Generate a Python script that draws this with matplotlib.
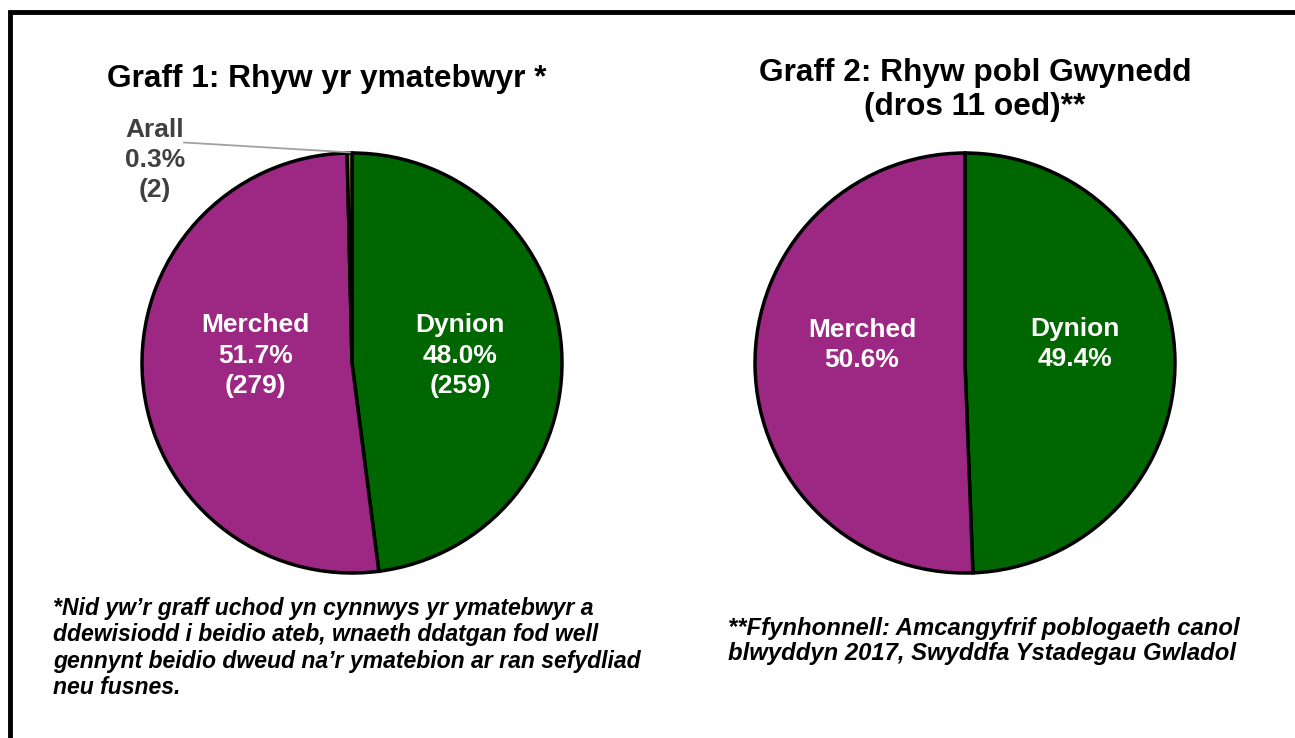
import matplotlib.pyplot as plt
from matplotlib.patches import Rectangle

plt.rcParams['font.family'] = ['Liberation Sans', 'DejaVu Sans']

# Graff 1: ymatebwyr (nifer)
labels1 = ['Dynion', 'Merched', 'Arall']
counts1 = [259, 279, 2]
pct1 = ['48.0%', '51.7%', '0.3%']

# Graff 2: poblogaeth Gwynedd (%)
labels2 = ['Dynion', 'Merched']
pct2 = [49.4, 50.6]

green = '#006600'
purple = '#9C2883'
arall_col = '#B8860B'

fig = plt.figure(figsize=(12.95, 7.38), dpi=100)
W, H = 1295, 738

# ffrâm ddu
fig.patches.append(Rectangle((10 / W, -0.1), 1.2, 1 - 12 / H + 0.1, transform=fig.transFigure,
                             fill=False, edgecolor='black', linewidth=3.5))


def pie_axes(cx, cy, r):
    return fig.add_axes([(cx - r) / W, 1 - (cy + r) / H, 2 * r / W, 2 * r / H])


wp = dict(edgecolor='black', linewidth=2.5)
lab = dict(fontsize=19, fontweight='bold', ha='center', va='center', linespacing=1.33)

ax1 = pie_axes(352, 363, 210)
ax1.pie(counts1, colors=[green, purple, arall_col], startangle=90, counterclock=False,
        wedgeprops=wp)
ax1.set_xlim(-1, 1)
ax1.set_ylim(-1, 1)
ax1.text(0.514, 0.035, f'{labels1[0]}\n{pct1[0]}\n({counts1[0]})', color='white', **lab)
ax1.text(-0.46, 0.035, f'{labels1[1]}\n{pct1[1]}\n({counts1[1]})', color='white', **lab)
ax1.text(-0.938, 0.967, f'{labels1[2]}\n{pct1[2]}\n({counts1[2]})', color='#404040', **lab)
ax1.plot([-0.80, -0.01], [1.05, 1.003], color='#A0A0A0', linewidth=1.3, clip_on=False)

ax2 = pie_axes(965, 363, 210)
ax2.pie(pct2, colors=[green, purple], startangle=90, counterclock=False, wedgeprops=wp)
ax2.set_xlim(-1, 1)
ax2.set_ylim(-1, 1)
ax2.text(0.524, 0.09, f'{labels2[0]}\n{pct2[0]:.1f}%', color='white', **lab)
ax2.text(-0.49, 0.086, f'{labels2[1]}\n{pct2[1]:.1f}%', color='white', **lab)

fig.text(327 / W, 1 - 79 / H, 'Graff 1: Rhyw yr ymatebwyr *', fontsize=22.8, fontweight='bold',
         ha='center', va='center')
fig.text(975 / W, 1 - 90 / H, 'Graff 2: Rhyw pobl Gwynedd\n(dros 11 oed)**', fontsize=22.8,
         fontweight='bold', ha='center', va='center', linespacing=1.18)

fig.text(53 / W, 1 - 648 / H,
         '*Nid yw\u2019r graff uchod yn cynnwys yr ymatebwyr a\n'
         'ddewisiodd i beidio ateb, wnaeth ddatgan fod well\n'
         'gennynt beidio dweud na\u2019r ymatebion ar ran sefydliad\n'
         'neu fusnes.',
         fontsize=16.6, fontweight='bold', style='italic', ha='left', va='center', linespacing=1.2)
fig.text(728 / W, 1 - 641 / H,
         '**Ffynhonnell: Amcangyfrif poblogaeth canol\n'
         'blwyddyn 2017, Swyddfa Ystadegau Gwladol',
         fontsize=17.2, fontweight='bold', style='italic', ha='left', va='center', linespacing=1.15)

fig.savefig('out.png', dpi=100)
